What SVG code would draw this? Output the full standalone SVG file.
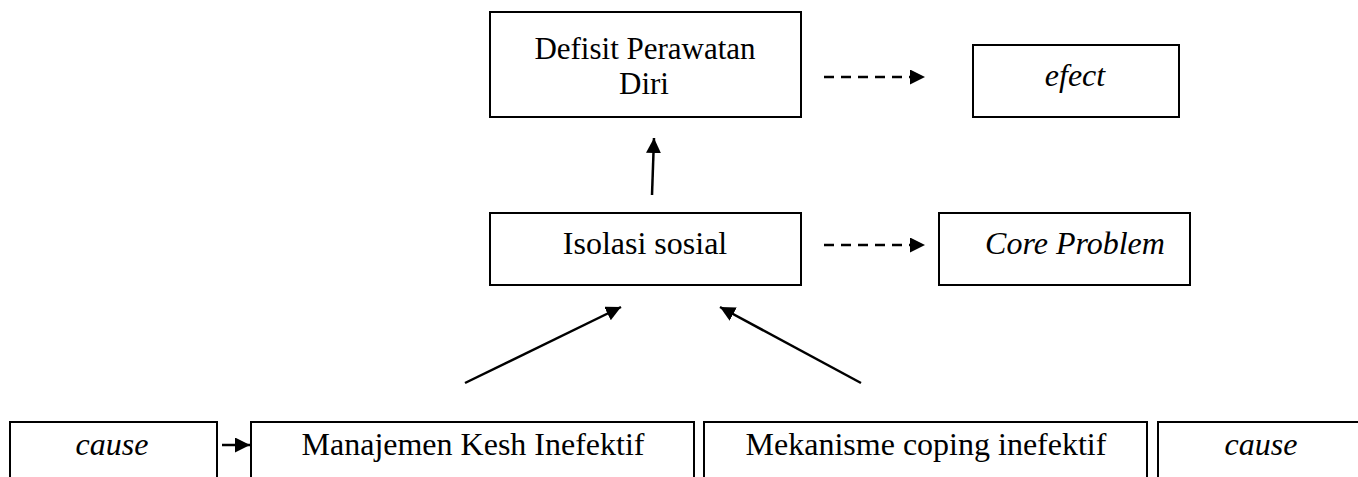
<svg xmlns="http://www.w3.org/2000/svg" width="1358" height="477" viewBox="0 0 1358 477">
<style>
.box{fill:#fff;stroke:#000;stroke-width:2}
.t{font-family:"Liberation Serif","Times New Roman",serif;font-size:32px;fill:#000;text-anchor:middle}
.s{font-size:31px}
.i{font-style:italic}
.c{stroke:#000;stroke-width:2.5;fill:none;marker-end:url(#ah)}
.d{stroke-dasharray:10 7}
</style>
<defs>
<marker id="ah" markerUnits="userSpaceOnUse" markerWidth="18" markerHeight="18" refX="15" refY="7.5" orient="auto">
<path d="M0,0 L15,7.5 L0,15 Z" fill="#000"/>
</marker>
</defs>
<g id="n-defisit">
<rect class="box" x="490" y="12" width="311" height="105"/>
<text class="t s" x="645" y="59">Defisit Perawatan</text>
<text class="t s" x="644" y="94">Diri</text>
</g>
<g id="n-efect">
<rect class="box" x="973" y="45" width="206" height="72"/>
<text class="t i" x="1075" y="86">efect</text>
</g>
<g id="n-isolasi">
<rect class="box" x="490" y="213" width="311" height="72"/>
<text class="t" x="645" y="254">Isolasi sosial</text>
</g>
<g id="n-core">
<rect class="box" x="939" y="213" width="251" height="72"/>
<text class="t i" x="1075" y="254">Core Problem</text>
</g>
<g id="n-cause1">
<rect class="box" x="10" y="422" width="207" height="70"/>
<text class="t i" x="112" y="455">cause</text>
</g>
<g id="n-manajemen">
<rect class="box" x="251" y="422" width="443" height="70"/>
<text class="t" x="473" y="455">Manajemen Kesh Inefektif</text>
</g>
<g id="n-mekanisme">
<rect class="box" x="704" y="422" width="443" height="70"/>
<text class="t" x="926" y="455">Mekanisme coping inefektif</text>
</g>
<g id="n-cause2">
<rect class="box" x="1158" y="422" width="220" height="70"/>
<text class="t i" x="1261" y="455">cause</text>
</g>
<g id="connectors">
<path class="c" d="M652,195 L654,138"/>
<path class="c d" d="M824,77 L925,77"/>
<path class="c d" d="M824,245 L925,245"/>
<path class="c" d="M465,383 L621,307"/>
<path class="c" d="M861,383 L720,307"/>
<path class="c" d="M222,445 L250,445"/>
</g>
</svg>
